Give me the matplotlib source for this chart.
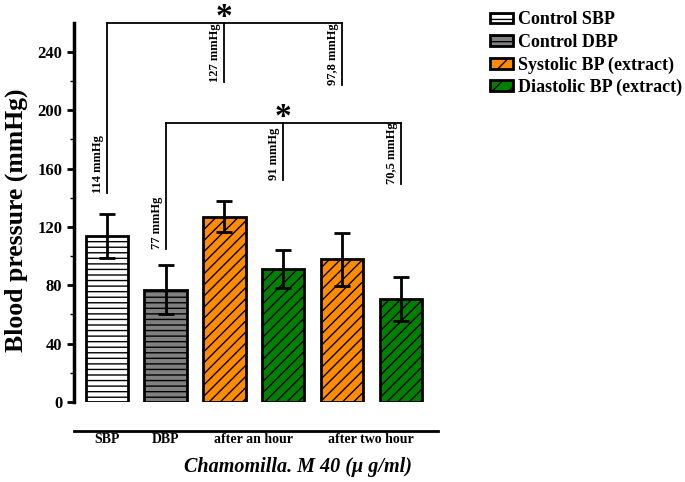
import numpy as np
from matplotlib import pyplot as plt
from matplotlib.patches import Patch

plt.rcParams['font.family'] = ['Liberation Serif', 'DejaVu Serif']
plt.rcParams['font.weight'] = 'bold'
plt.rcParams['hatch.linewidth'] = 1.0

groups = ['SBP', 'DBP', 'after an hour', 'after two hour']
values = [114, 77, 127, 91, 97.8, 70.5]
errors = [15, 17, 10.5, 13, 18, 15]
colors = ['white', '#808080', '#FF8C00', '#008000', '#FF8C00', '#008000']
hatches = ['---', '---', '///', '///', '///', '///']
labels = ['114 mmHg', '77 mmHg', '127 mmHg', '91 mmHg', '97,8 mmHg', '70,5 mmHg']
# bottom end of each bracket leg
leg_bottom = [143, 105, 219.5, 152, 217.5, 149.5]
legend_names = ['Control SBP', 'Control DBP', 'Systolic BP (extract)', 'Diastolic BP (extract)']

fig = plt.figure(figsize=(6.85, 4.82), dpi=100)
ax = fig.add_axes([0.108, 0.166, 0.531, 0.787])

x = np.arange(len(values))
bars = ax.bar(x, values, width=0.72, color=colors, edgecolor='black', linewidth=2)
for b, h in zip(bars, hatches):
    b.set_hatch(h)
ax.errorbar(x, values, yerr=errors, fmt='none', ecolor='black', elinewidth=2,
            capsize=6, capthick=2)

ax.set_xlim(-0.56, 5.63)
ax.set_ylim(0, 260)
ax.set_yticks(np.arange(0, 241, 40))
ax.set_yticks(np.arange(20, 260, 40), minor=True)
ax.tick_params(axis='y', which='major', length=5, width=2, labelsize=12)
ax.tick_params(axis='y', which='minor', length=3, width=1)
ax.tick_params(axis='x', length=0, labelsize=10, pad=1)
ax.set_xticks([0, 1, 2.5, 4.5])
ax.set_xticklabels(groups, fontweight='bold')
for t in ax.get_yticklabels():
    t.set_fontweight('bold')

for s in ['top', 'right']:
    ax.spines[s].set_visible(False)
ax.spines['left'].set_linewidth(2.5)
ax.spines['bottom'].set_linewidth(2)
ax.spines['bottom'].set_position(('outward', 21))

fig.text(0.024, 0.544, 'Blood pressure (mmHg)', rotation=90, ha='center', va='center',
         fontsize=18.5, fontweight='bold')
fig.text(0.435, 0.031, 'Chamomilla. M 40 (μ g/ml)', ha='center', va='center',
         fontsize=14.5, fontweight='bold', style='italic')

# brackets
def bracket(idx, ytop, ystar):
    ax.plot([x[idx[0]], x[idx[-1]]], [ytop, ytop], color='black', lw=1.3, clip_on=False)
    for i in idx:
        ax.plot([x[i], x[i]], [leg_bottom[i], ytop], color='black', lw=1.3, clip_on=False)
        ax.text(x[i] - 0.05, leg_bottom[i], labels[i], rotation=90, ha='right',
                va='bottom', fontsize=9, fontweight='bold')
    ax.text(x[idx[len(idx) // 2]], ystar, '*', ha='center', va='bottom',
            fontsize=24, fontweight='bold', clip_on=False)

bracket([0, 2, 4], 259.5, 253)
bracket([1, 3, 5], 191, 184.5)

handles = [Patch(facecolor=colors[i], edgecolor='black', hatch=hatches[i].replace('///', '//'),
                 linewidth=2) for i in [0, 1, 2, 3]]
fig.legend(handles, legend_names, loc='upper left', bbox_to_anchor=(0.691, 1.01),
           frameon=False, handlelength=1.3, handleheight=0.55,
           handletextpad=0.3, labelspacing=0.3, prop={'weight': 'bold', 'size': 13})

fig.savefig('out.png', dpi=100)
